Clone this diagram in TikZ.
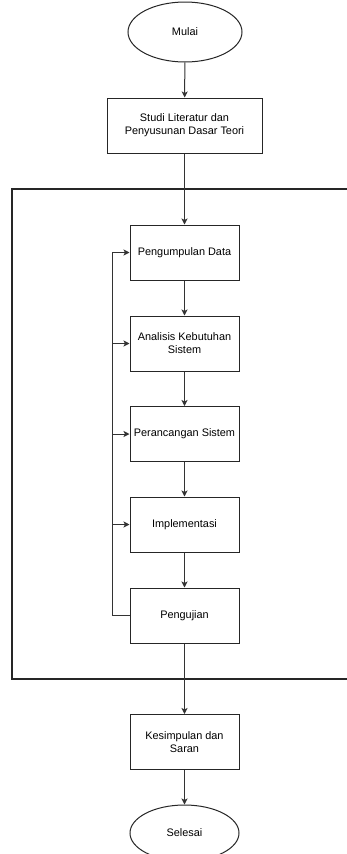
\documentclass[tikz,border=0pt]{standalone}
\usepackage{fontspec}
\setmainfont{Liberation Sans}
\usetikzlibrary{shapes.geometric,arrows.meta}
\begin{document}
\begin{tikzpicture}[x=1pt,y=-1pt,
  every node/.style={font=\fontsize{10.9pt}{13pt}\selectfont, text=black},
  procbox/.style={draw=black!85, line width=1pt, rectangle, minimum width=109pt, minimum height=55pt, inner sep=0pt, align=center},
  termnode/.style={draw=black!85, line width=1pt, ellipse, inner sep=0pt, align=center},
  arr/.style={draw=black!80, line width=1pt, -{Stealth[length=6pt,width=6pt,inset=1.5pt]}},
  ln/.style={draw=black!80, line width=1pt}]
\useasboundingbox (0,0) rectangle (347,854);
\clip (0,0) rectangle (347,854);
\fill[white] (0,0) rectangle (347,854);
% outer frame (right side extends beyond picture)
\draw[draw=black!85, line width=1.2pt] (360,189) -- (12,189) -- (12,679) -- (360,679);
\node[termnode, minimum width=114pt, minimum height=60pt] (mulai) at (185,32) {Mulai};
\node[procbox, minimum width=155pt] (studi) at (184.5,125.5) {Studi Literatur dan\\Penyusunan Dasar Teori};
\node[procbox] (pd) at (184.5,252.5) {Pengumpulan Data};
\node[procbox] (ak) at (184.5,343.5) {Analisis Kebutuhan\\Sistem};
\node[procbox] (ps) at (184.5,434) {Perancangan Sistem};
\node[procbox] (im) at (184.5,524.5) {Implementasi};
\node[procbox] (pg) at (184.5,615.5) {Pengujian};
\node[procbox] (ks) at (184.5,742) {Kesimpulan dan\\Saran};
\node[termnode, minimum width=109pt, minimum height=56pt] (sl) at (184.5,833) {Selesai};
\draw[arr] (mulai) -- (studi);
\draw[arr] (studi) -- (pd);
\draw[arr] (pd) -- (ak);
\draw[arr] (ak) -- (ps);
\draw[arr] (ps) -- (im);
\draw[arr] (im) -- (pg);
\draw[arr] (pg) -- (ks);
\draw[arr] (ks) -- (sl);
\coordinate (lp) at (112,615.5);
\draw[arr] (pg.west) -- (lp) |- (pd.west);
\draw[arr] (lp |- ak.west) -- (ak.west);
\draw[arr] (lp |- ps.west) -- (ps.west);
\draw[arr] (lp |- im.west) -- (im.west);
\end{tikzpicture}
\end{document}
